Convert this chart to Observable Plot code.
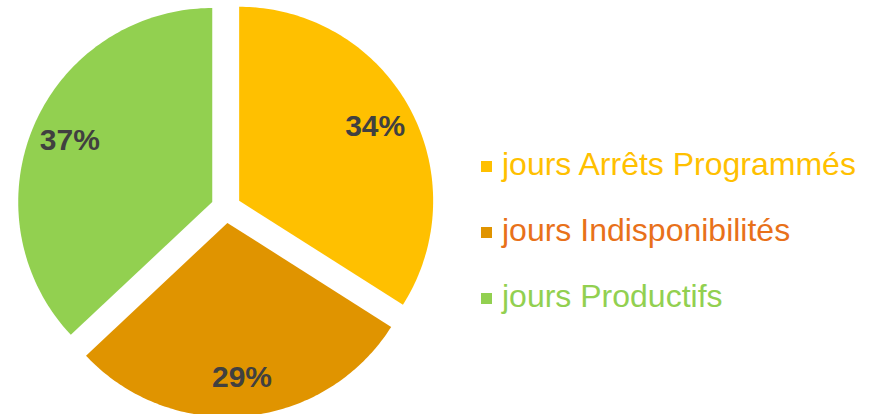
<!DOCTYPE html>
<html>
<head>
<meta charset="utf-8">
<script src="https://cdn.jsdelivr.net/npm/d3@7"></script>
<script src="https://cdn.jsdelivr.net/npm/@observablehq/plot@0.6"></script>
<style>
  html, body { margin: 0; padding: 0; background: #fff; }
  #wrap { position: relative; width: 875px; height: 414px; overflow: hidden; }
  #legend { position: absolute; left: 481px; top: 131px; font-family: "Liberation Sans", Arial, sans-serif; font-size: 32px; }
  .row { line-height: 66px; white-space: nowrap; }
  .sw { display: inline-block; width: 11px; height: 11px; margin-bottom: 3px; margin-right: 10px; vertical-align: baseline; }
</style>
</head>
<body>
<div id="wrap"><div id="legend"></div></div>
<script>
const categories = ["jours Arrêts Programmés", "jours Indisponibilités", "jours Productifs"];
const values = [34, 29, 37];
const labels = ["34%", "29%", "37%"];
const sliceColors = ["#FFC000", "#E09400", "#92D050"];
const legendTextColors = ["#FFC000", "#E8711A", "#92D050"];

// layout settings (pixels)
const W = 875, H = 414, CX = 225.5, CY = 207.5, R = 194, EXPLODE = 15 / 194, LABEL_R = 0.8;

const total = d3.sum(values);
const pts = [];
const labelPts = [];
let acc = 0;
values.forEach((v, i) => {
  const a0 = acc / total * 2 * Math.PI;
  acc += v;
  const a1 = acc / total * 2 * Math.PI;
  const mid = (a0 + a1) / 2;
  const ox = EXPLODE * Math.sin(mid), oy = EXPLODE * Math.cos(mid);
  const key = categories[i];
  pts.push({key, x: ox, y: oy});
  const n = 120;
  for (let k = 0; k <= n; k++) {
    const a = a0 + (a1 - a0) * k / n;
    pts.push({key, x: ox + Math.sin(a), y: oy + Math.cos(a)});
  }
  pts.push({key, x: ox, y: oy});
  labelPts.push({key, text: labels[i], x: ox + LABEL_R * Math.sin(mid), y: oy + LABEL_R * Math.cos(mid)});
});

const chart = Plot.plot({
  width: W,
  height: H,
  margin: 0,
  x: {domain: [-CX / R, (W - CX) / R], axis: null},
  y: {domain: [-(H - CY) / R, CY / R], axis: null},
  color: {domain: categories, range: sliceColors},
  style: {background: "transparent"},
  marks: [
    Plot.line(pts, {x: "x", y: "y", z: "key", fill: "key", stroke: "none", curve: "linear"}),
    Plot.text(labelPts, {x: "x", y: "y", text: "text", fill: "#404040", fontSize: 30, fontWeight: "bold", fontFamily: "'Liberation Sans', Arial, sans-serif"})
  ]
});
document.getElementById("wrap").prepend(chart);

const legend = document.getElementById("legend");
categories.forEach((c, i) => {
  const row = document.createElement("div");
  row.className = "row";
  const sw = document.createElement("span");
  sw.className = "sw";
  sw.style.background = sliceColors[i];
  const t = document.createElement("span");
  t.textContent = c;
  t.style.color = legendTextColors[i];
  row.appendChild(sw);
  row.appendChild(t);
  legend.appendChild(row);
});
</script>
</body>
</html>
